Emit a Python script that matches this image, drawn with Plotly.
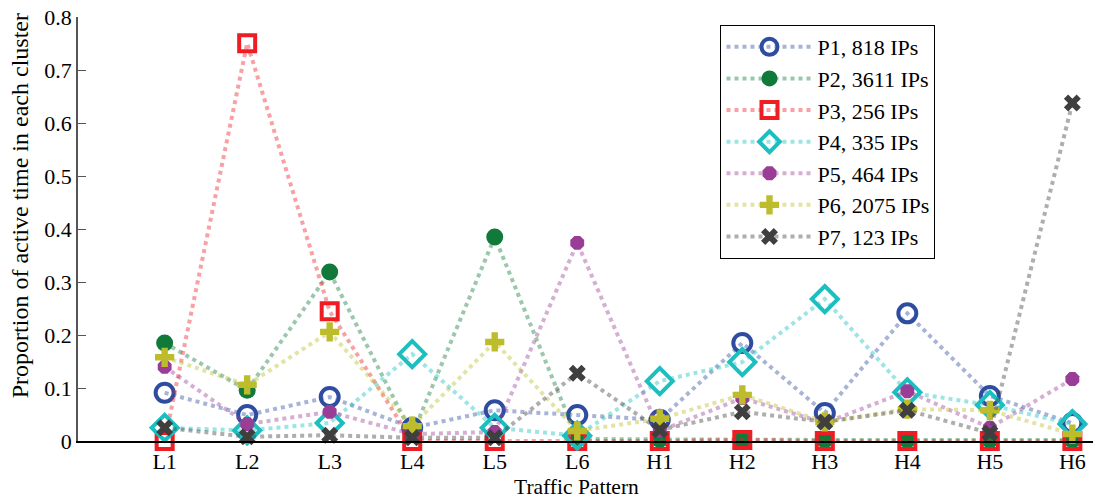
import plotly.graph_objects as go

categories = ["L1", "L2", "L3", "L4", "L5", "L6", "H1", "H2", "H3", "H4", "H5", "H6"]
names = ["P1, 818 IPs", "P2, 3611 IPs", "P3, 256 IPs", "P4, 335 IPs",
         "P5, 464 IPs", "P6, 2075 IPs", "P7, 123 IPs"]
y_ticks = [0, 0.1, 0.2, 0.3, 0.4, 0.5, 0.6, 0.7, 0.8]
y_tick_text = ["0", "0.1", "0.2", "0.3", "0.4", "0.5", "0.6", "0.7", "0.8"]

p1 = [0.091, 0.049, 0.083, 0.025, 0.058, 0.049, 0.040, 0.185, 0.053, 0.241, 0.085, 0.034]
p2 = [0.185, 0.096, 0.319, 0.012, 0.385, 0.004, 0.003, 0.002, 0.002, 0.002, 0.002, 0.002]
p3 = [0.000, 0.751, 0.245, 0.000, 0.000, 0.000, 0.000, 0.002, 0.000, 0.000, 0.000, 0.000]
p4 = [0.025, 0.020, 0.034, 0.164, 0.025, 0.010, 0.113, 0.149, 0.268, 0.092, 0.068, 0.032]
p5 = [0.140, 0.032, 0.055, 0.013, 0.017, 0.374, 0.019, 0.081, 0.034, 0.094, 0.025, 0.117]
p6 = [0.158, 0.106, 0.206, 0.028, 0.187, 0.019, 0.042, 0.087, 0.036, 0.060, 0.058, 0.013]
p7 = [0.025, 0.008, 0.011, 0.006, 0.006, 0.128, 0.021, 0.055, 0.036, 0.058, 0.015, 0.638]

series = [p1, p2, p3, p4, p5, p6, p7]
marker_colors = ["#2F4DA0", "#117A3A", "#EE1D23", "#1BBFBF", "#993D97", "#BDBD2B", "#3F3F3F"]
line_colors = ["rgba(47,77,160,0.42)", "rgba(17,122,58,0.42)", "rgba(238,29,35,0.42)",
               "rgba(27,191,191,0.42)", "rgba(153,61,151,0.42)", "rgba(189,189,43,0.42)",
               "rgba(63,63,63,0.42)"]
symbols = ["circle-open", "circle", "square-open", "diamond-open", "octagon", "cross", "x"]
sizes = [18, 17, 16, 20, 15, 16, 15]

fig = go.Figure()
for vals, name, mc, lc, sym, sz in zip(series, names, marker_colors, line_colors, symbols, sizes):
    openm = sym.endswith("-open")
    fig.add_trace(go.Scatter(
        x=categories, y=vals, name=name, mode="lines+markers",
        line=dict(color=lc, width=4, dash="dot"),
        marker=dict(symbol=sym, size=sz, color=mc,
                    line=dict(color=mc, width=4 if openm else 0)),
        cliponaxis=False,
    ))

font_family = "Liberation Serif, Times New Roman, serif"
fig.update_layout(
    width=1093, height=499,
    margin=dict(l=78, r=0, t=17, b=58, autoexpand=False),
    paper_bgcolor="white", plot_bgcolor="white",
    font=dict(family=font_family, size=22, color="black"),
    showlegend=True,
    legend=dict(x=0.633, y=0.981, xanchor="left", yanchor="top",
                bordercolor="black", borderwidth=1, bgcolor="white",
                font=dict(family=font_family, size=22), itemwidth=86,
                tracegroupgap=0),
    annotations=[
        dict(text="Traffic Pattern", xref="paper", yref="paper", x=0.4916, y=-0.108,
             xanchor="center", yanchor="middle", showarrow=False,
             font=dict(family=font_family, size=21.5)),
        dict(text="Proportion of active time in each cluster", xref="paper", yref="paper",
             x=-0.057, y=0.554, xanchor="center", yanchor="middle", textangle=-90,
             showarrow=False, font=dict(family=font_family, size=24)),
    ],
)
fig.update_xaxes(
    range=[-1.05, 11.25], showgrid=False, zeroline=False,
    showline=True, linecolor="black", linewidth=1.5,
    ticks="", tickfont=dict(size=22), automargin=False,
)
fig.update_yaxes(
    range=[0, 0.8005], tickvals=y_ticks, ticktext=y_tick_text,
    showgrid=False, zeroline=False,
    showline=True, linecolor="#555555", linewidth=1.5,
    ticks="inside", ticklen=8, tickcolor="#555555",
    tickfont=dict(size=22), ticklabeloverflow="allow", automargin=False,
)

fig.write_html("out.html", config={"displayModeBar": False},
               post_script="document.body.style.margin='0';document.body.style.overflow='hidden';")
